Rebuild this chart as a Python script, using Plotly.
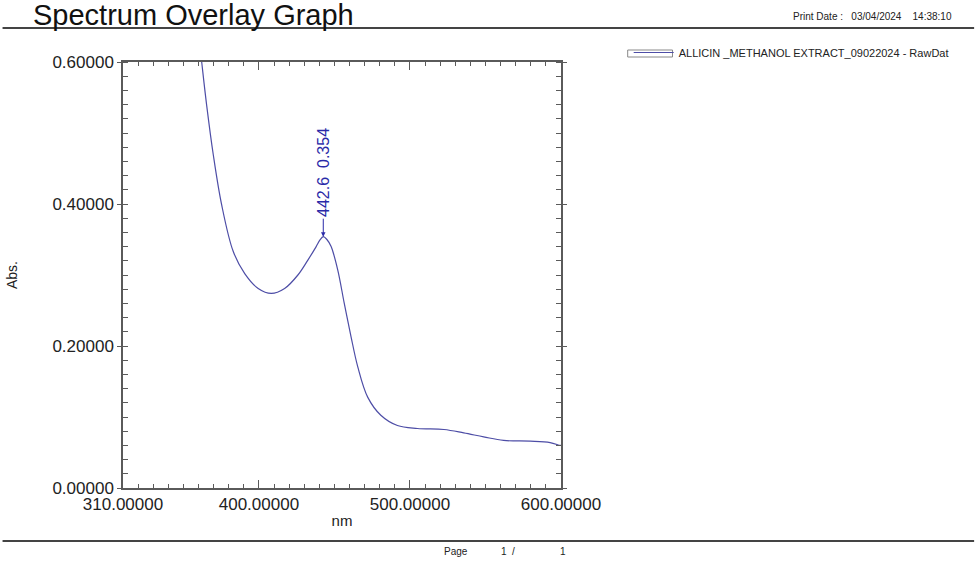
import plotly.graph_objects as go

# ---- data ----
wavelength_nm = [360.0, 362.1, 365.4, 369.8, 375.3, 383.0, 390.6, 399.5,
                 408.2, 417.0, 425.8, 432.4, 437.9, 440.3, 442.6, 445.0, 447.8, 452.2,
                 456.5, 461.0, 465.4, 472.0, 480.7, 491.7, 504.9, 522.5, 535.6, 548.8,
                 562.0, 579.6, 592.8, 599.4, 600.0]
absorbance = [0.640, 0.600, 0.539, 0.469, 0.399, 0.333, 0.302, 0.281,
              0.274, 0.281, 0.300, 0.321, 0.340, 0.349, 0.354, 0.350, 0.340, 0.307,
              0.260, 0.213, 0.171, 0.128, 0.1025, 0.088, 0.0838, 0.0824, 0.0776, 0.072,
              0.067, 0.066, 0.064, 0.060, 0.060]
series_name = "ALLICIN _METHANOL EXTRACT_09022024 - RawDat"
peak_nm = 442.6
peak_abs = 0.354
x_ticks = [310, 400, 500, 600]
x_tick_labels = ["310.00000", "400.00000", "500.00000", "600.00000"]
y_ticks = [0.0, 0.2, 0.4, 0.6]
y_tick_labels = ["0.00000", "0.20000", "0.40000", "0.60000"]
title_text = "Spectrum Overlay Graph"
print_date = "Print Date :   03/04/2024    14:38:10"
footer_texts = ["Page", "1  /", "1"]

FONT = "Liberation Sans, Arial, sans-serif"
AXIS_COLOR = "#5a5a5a"
LINE_COLOR = "#4d4da6"
TEXT_COLOR = "#222222"

W, H = 976, 563
PL, PT, PW, PH = 121, 62, 440, 426  # plot area in page pixels


def px_x(X):
    return (X - PL) / PW


def px_y(Y):
    return (PT + PH - Y) / PH


fig = go.Figure()
fig.add_trace(go.Scatter(
    x=wavelength_nm, y=absorbance, mode="lines", name=series_name,
    line=dict(color=LINE_COLOR, width=1.2, shape="spline", smoothing=1.0),
    showlegend=True,
))

fig.update_layout(
    width=W, height=H,
    margin=dict(l=PL, r=W - PL - PW, t=PT, b=H - PT - PH),
    paper_bgcolor="white", plot_bgcolor="white",
    font=dict(family=FONT, color=TEXT_COLOR),
    title=dict(text=title_text, x=33 / W, xanchor="left",
               y=1 - 15 / H, yanchor="middle",
               font=dict(family=FONT, size=29, color="#111111")),
    showlegend=True,
    legend=dict(x=px_x(629), xanchor="left", y=px_y(38), yanchor="top",
                font=dict(family=FONT, size=11, color=TEXT_COLOR),
                bgcolor="rgba(0,0,0,0)", itemwidth=40),
    xaxis=dict(
        range=[310, 600], tickmode="array", tickvals=x_ticks, ticktext=x_tick_labels,
        ticks="inside", ticklen=8, tickwidth=1.2, tickcolor=AXIS_COLOR,
        showline=True, linecolor=AXIS_COLOR, linewidth=1.5, mirror="allticks",
        showgrid=False, zeroline=False,
        tickfont=dict(family=FONT, size=17, color=TEXT_COLOR),
        minor=dict(tick0=310, dtick=10, ticks="inside", ticklen=4, tickwidth=1,
                   tickcolor=AXIS_COLOR, showgrid=False),
        title=dict(text="nm", font=dict(family=FONT, size=15, color=TEXT_COLOR), standoff=2),
    ),
    yaxis=dict(
        range=[0, 0.6], tickmode="array", tickvals=y_ticks, ticktext=y_tick_labels,
        ticks="outside", ticklen=4, tickwidth=1.2, tickcolor=AXIS_COLOR,
        showline=True, linecolor=AXIS_COLOR, linewidth=1.5, mirror="allticks",
        showgrid=False, zeroline=False,
        tickfont=dict(family=FONT, size=17, color=TEXT_COLOR),
        minor=dict(tick0=0, dtick=0.02, ticks="inside", ticklen=5, tickwidth=1,
                   tickcolor=AXIS_COLOR, showgrid=False),
        title=dict(text="Abs.", font=dict(family=FONT, size=14, color=TEXT_COLOR), standoff=31),
    ),
)

# peak annotation
fig.add_annotation(
    x=peak_nm, y=peak_abs, xref="x", yref="y",
    text=f"{peak_nm:.1f}  {peak_abs:.3f}", textangle=-90,
    showarrow=True, arrowhead=2, arrowsize=0.9, arrowwidth=1, arrowcolor="#2a2aa8",
    ax=0, ay=-64, standoff=0,
    font=dict(family=FONT, size=16, color="#2a2aa8"),
)

# header date
fig.add_annotation(
    x=px_x(956), y=px_y(16), xref="paper", yref="paper", xanchor="right", yanchor="middle",
    text=print_date, showarrow=False,
    font=dict(family=FONT, size=10, color=TEXT_COLOR),
)

# page footer
for txt, px in zip(footer_texts, [456, 508, 563]):
    fig.add_annotation(
        x=px_x(px), y=px_y(551), xref="paper", yref="paper",
        xanchor="center", yanchor="middle", text=txt, showarrow=False,
        font=dict(family=FONT, size=10, color=TEXT_COLOR),
    )

# legend symbol frame
fig.add_shape(type="rect", xref="paper", yref="paper",
              x0=px_x(628), x1=px_x(673), y0=px_y(57), y1=px_y(50),
              line=dict(color="#888888", width=1), fillcolor="rgba(0,0,0,0)")

# header / footer rules
for ypx in (28, 541):
    fig.add_shape(type="line", xref="paper", yref="paper",
                  x0=px_x(0), x1=px_x(976),
                  y0=px_y(ypx), y1=px_y(ypx),
                  line=dict(color="#444444", width=2))

fig.write_html("out.html",
               config={"displayModeBar": False},
               post_script="document.body.style.margin='0px';document.body.style.overflow='hidden';")
